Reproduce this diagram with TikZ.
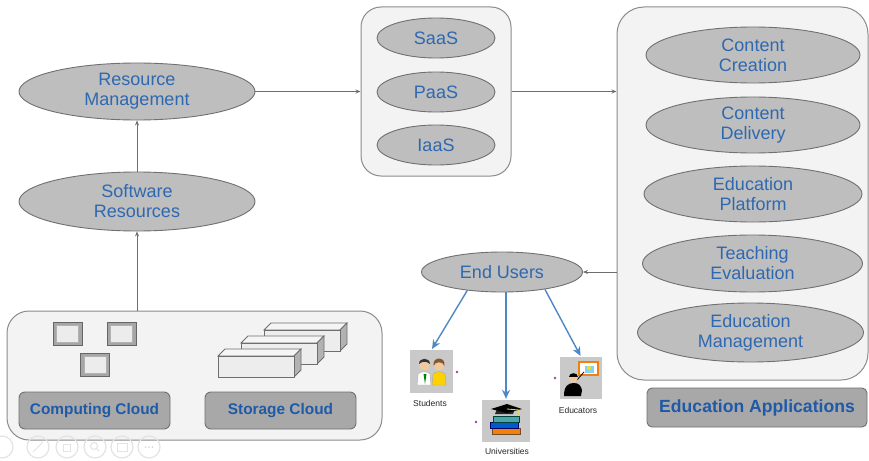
\documentclass[tikz,border=0pt]{standalone}
\usepackage{fontspec}
\setmainfont{Liberation Sans}
\usetikzlibrary{shapes.geometric,arrows.meta}

\definecolor{ellfill}{HTML}{BEBEBE}
\definecolor{ellline}{HTML}{707070}
\definecolor{txtblue}{HTML}{2E68B0}
\definecolor{boldblue}{HTML}{1E5AA8}
\definecolor{panelfill}{HTML}{F3F3F3}
\definecolor{panelline}{HTML}{8C8C8C}
\definecolor{tagfill}{HTML}{A8A8A8}
\definecolor{tagline}{HTML}{707070}
\definecolor{connc}{HTML}{6E6E6E}
\definecolor{userblue}{HTML}{4F88C6}
\definecolor{iconbg}{HTML}{C9C9C9}
\definecolor{dotc}{HTML}{A0409A}
\definecolor{skin}{HTML}{F1C9A0}

\newcommand{\storageblock}[2]{%
  % top face, side face and front face of one storage unit
  \filldraw[fill=gray!8, draw=connc, line width=0.8pt]
    (#1,#2) -- ++(7,-7) -- ++(76,0) -- ++(-7,7) -- cycle;
  \filldraw[fill=gray!60, draw=connc, line width=0.8pt]
    (#1+76,#2) -- ++(7,-7) -- ++(0,21) -- ++(-7,7) -- cycle;
  \filldraw[fill=gray!14, draw=connc, line width=0.8pt]
    (#1,#2) rectangle ++(76,21);}

\newcommand{\monitor}[2]{%
  % small bevelled server screen, centred at (#1,#2)
  \filldraw[fill=gray!70, draw=gray!80!black, line width=0.6pt]
    (#1-14.5,#2-11.5) rectangle (#1+14.5,#2+11.5);
  \filldraw[fill=gray!15, draw=gray!60, line width=0.5pt]
    (#1-11,#2-8.5) rectangle (#1+11,#2+8.5);}

\begin{document}
\begin{tikzpicture}[x=1pt,y=-1pt,
  ell/.style={ellipse, draw=ellline, fill=ellfill, line width=0.9pt,
    text=txtblue, align=center, inner sep=0pt,
    font=\fontsize{18}{20}\selectfont},
  panel/.style={draw=panelline, fill=panelfill, line width=1pt, inner sep=0pt},
  tag/.style={draw=tagline, fill=tagfill, line width=0.9pt, rounded corners=6pt,
    text=boldblue, inner sep=0pt, font=\bfseries\fontsize{15.4}{17}\selectfont},
  conn/.style={draw=connc, line width=0.8pt, -{Stealth[length=5pt,width=4pt]}},
  uarrow/.style={draw=userblue, line width=1.4pt, -{Stealth[length=9pt,width=8pt]},
    shorten >=1pt},
  iconbox/.style={fill=iconbg, inner sep=0pt},
  iconlabel/.style={text=black!85, inner sep=0pt, font=\fontsize{8.5}{9}\selectfont},
  toolring/.style={draw=gray!22, line width=1.2pt}]

\useasboundingbox (0,0) rectangle (869,460);
\fill[white] (0,0) rectangle (869,460);

% ---- container panels ----
\node[panel, rounded corners=22pt, minimum width=375pt, minimum height=129pt]
  (infra) at (194.5,375.5) {};
\node[panel, rounded corners=20pt, minimum width=150pt, minimum height=169pt]
  (svc) at (436,91.5) {};
\node[panel, rounded corners=27pt, minimum width=251pt, minimum height=373pt]
  (edu) at (742.5,193.5) {};

% ---- infrastructure layer ----
\monitor{67.5}{333.5}
\monitor{121.5}{333.5}
\monitor{95}{365}
\storageblock{264}{330}
\storageblock{241}{343}
\storageblock{218}{356}
\node[tag, minimum width=151pt, minimum height=37pt] (comp) at (94.5,410.5) {Computing Cloud};
\node[tag, minimum width=151pt, minimum height=37pt] (stor) at (280.5,410.5) {Storage Cloud};

% ---- resource layer ----
\node[ell, minimum width=236pt, minimum height=59pt] (sr) at (137,201.5) {Software\\Resources};
\node[ell, minimum width=236pt, minimum height=57pt] (rm) at (137,91.5) {Resource\\Management};

% ---- service models ----
\node[ell, minimum width=118pt, minimum height=40pt] (saas) at (436,38) {SaaS};
\node[ell, minimum width=118pt, minimum height=40pt] (paas) at (436,92) {PaaS};
\node[ell, minimum width=118pt, minimum height=40pt] (iaas) at (436,145) {IaaS};

% ---- education applications ----
\begin{scope}[every node/.append style={font=\fontsize{18}{19}\selectfont}]
\node[ell, minimum width=214pt, minimum height=56pt] (cc) at (753,55) {Content\\Creation};
\node[ell, minimum width=214pt, minimum height=56pt] (cd) at (753,125) {Content\\Delivery};
\node[ell, minimum width=218pt, minimum height=56pt] (ep) at (753,194) {Education\\Platform};
\node[ell, minimum width=220pt, minimum height=57pt] (te) at (752.5,263.5) {Teaching\\Evaluation};
\node[ell, minimum width=226pt, minimum height=59pt] (em) at (750.5,332.5) {Education\\Management};
\end{scope}
\node[tag, rounded corners=5pt, minimum width=220pt, minimum height=39pt,
  font=\bfseries\fontsize{17.6}{19}\selectfont] (apps) at (757,407.5) {Education Applications};

% ---- end users ----
\node[ell, minimum width=161pt, minimum height=40pt] (eu) at (502,272) {End Users};

\node[iconbox, minimum width=43pt, minimum height=43pt] (stu) at (431.5,371.5) {};
\node[iconbox, minimum width=48pt, minimum height=42pt] (uni) at (506,421) {};
\node[iconbox, minimum width=42pt, minimum height=42pt] (edc) at (581,378) {};
\node[iconlabel] (stulab) at (430,403) {Students};
\node[iconlabel] (unilab) at (507,451) {Universities};
\node[iconlabel] (edclab) at (578,410) {Educators};

% students: two pupils
\filldraw[fill=white, draw=gray!70, line width=0.4pt] (417,385) -- (418,374) .. controls (420,371) and (428,371) .. (430,374) -- (431,385) -- cycle;
\fill[green!50!black] (423.5,374) -- (425,384) -- (426.5,374) -- cycle;
\filldraw[fill=yellow!70!orange, draw=gray!70, line width=0.4pt] (432,385) -- (433,374) .. controls (435,371) and (443,371) .. (445,374) -- (446,385) -- cycle;
\fill[skin] (424.5,365) circle (5.5);
\fill[skin] (439,365) circle (5.5);
\fill[black!80] (419,364) .. controls (419,357) and (430,357) .. (430,364) .. controls (427,361) and (422,361) .. cycle;
\fill[brown!70!black] (433.5,366) .. controls (432,356) and (446,356) .. (444.5,366) .. controls (443,361) and (435,361) .. cycle;

% universities: stacked books and a mortarboard
\filldraw[fill=orange!80!brown, draw=brown!60!black, line width=0.4pt] (492,428) rectangle (520,434);
\filldraw[fill=blue!55!cyan!80!black, draw=blue!40!black, line width=0.4pt] (490,422) rectangle (518,428);
\filldraw[fill=teal!70, draw=teal!50!black, line width=0.4pt] (493,416.5) rectangle (519,422);
\fill[black!85] (495,414) -- (497,409) -- (515,409) -- (513,414) -- cycle;
\fill[black] (491,409) -- (507,404) -- (522,409) -- (507,413) -- cycle;
\draw[yellow!80!orange, line width=0.8pt] (507,409) -- (519,410) -- (519,416);

% educators: teacher beside a board
\filldraw[fill=white, draw=orange!80!brown, line width=1.2pt] (579,362) rectangle (598,375);
\fill[cyan!50] (585,366) rectangle (594,373);
\fill[yellow!80!orange] (589,368) circle (2);
\draw[black, line width=0.8pt] (576,381) -- (584,372);
\fill[black] (564,396) .. controls (564,386) and (568,383) .. (574,383) .. controls (579,383) and (581,386) .. (582,390) -- (581,396) -- cycle;
\fill[skin] (573.5,378.5) circle (4.2);
\fill[black] (569,377) .. controls (569,372) and (578,372) .. (578,377) -- cycle;

% small markers beside the icons
\fill[dotc] (457,372) circle (1.3);
\fill[dotc] (476,422) circle (1.3);
\fill[dotc] (555,378) circle (1.3);

% ---- connectors ----
\draw[conn] (infra.north -| sr) -- (sr);
\draw[conn] (sr) -- (rm);
\draw[conn] (rm) -- (svc.west |- rm);
\draw[conn] (svc) -- (edu.west |- svc);
\draw[conn] (edu.west |- eu) -- (eu);
\draw[uarrow] (eu.208) -- (stu.north);
\draw[uarrow] (eu.south -| uni.north) -- (uni.north);
\draw[uarrow] (eu.338) -- (edc.north);

% ---- faint viewer toolbar ----
\foreach \tx in {2,38,67,95,122,149}
  \draw[toolring] (\tx,447) circle (11);
\draw[gray!22, line width=1pt] (33,452) -- (43,442);
\draw[gray!22, line width=1pt] (63,444) rectangle (70,451);
\draw[gray!22, line width=1pt] (94,446) circle (3.5) (96.5,448.5) -- (99,451);
\draw[gray!22, line width=1pt] (117,443) rectangle (127,451);
\foreach \dx in {-3.5,0,3.5}
  \fill[gray!28] (149+\dx,447) circle (1);
\end{tikzpicture}
\end{document}
